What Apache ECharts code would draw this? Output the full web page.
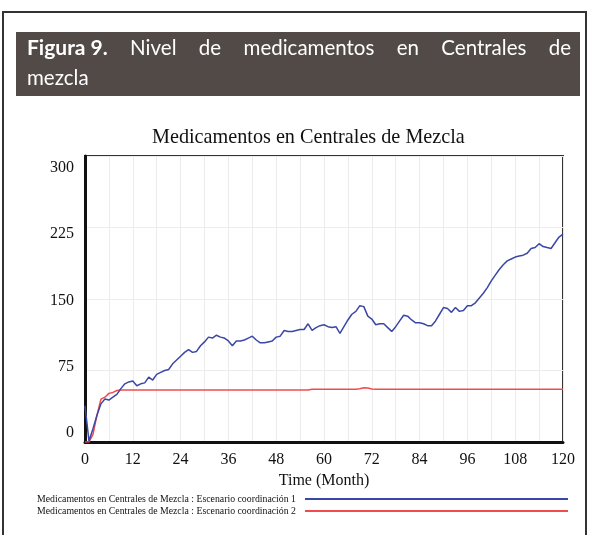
<!DOCTYPE html>
<html>
<head>
<meta charset="utf-8">
<title>Medicamentos en Centrales de Mezcla</title>
<script src="https://cdn.jsdelivr.net/npm/echarts@6/dist/echarts.min.js"></script>
<style>
  html, body { margin: 0; padding: 0; background: #fff; }
  #main { width: 589px; height: 535px; }
</style>
</head>
<body>
<div id="main"></div>
<script>
// months 0..120
const months = Array.from({ length: 121 }, (_, i) => i)

const scenario1 = [
  38, 1, 14, 28, 40, 45, 44, 47, 50, 56,
  61, 63, 64, 59, 61, 62, 68, 65, 71, 73,
  75, 76, 82, 86, 90, 94, 97, 94, 95, 101,
  105, 110, 109, 112, 110, 109, 106, 101, 106, 106,
  107, 109, 111, 107, 104, 104, 105, 106, 110, 111,
  117, 116, 116, 117, 118, 118, 124, 117, 120, 122,
  123, 121, 120, 121, 114, 121, 128, 134, 137, 143,
  142, 132, 129, 123, 124, 124, 120, 116, 121, 127,
  133, 132, 128, 125, 125, 124, 122, 122, 127, 134,
  141, 140, 136, 141, 137, 138, 143, 143, 146, 151,
  156, 162, 169, 175, 181, 186, 190, 192, 194, 195,
  196, 198, 203, 204, 208, 205, 204, 203, 209, 215,
  218
]

const scenario2 = [
  0, 0, 8, 28, 45, 47, 51, 52, 54, 54.5,
  54.5, 54.5, 54.5, 54.5, 54.5, 54.5, 54.5, 54.5, 54.5, 54.5,
  54.5, 54.5, 54.5, 54.5, 54.5, 54.5, 54.5, 54.5, 54.5, 54.5,
  54.5, 54.5, 54.5, 54.5, 54.5, 54.5, 54.5, 54.5, 54.5, 54.5,
  54.5, 54.5, 54.5, 54.5, 54.5, 54.5, 54.5, 54.5, 54.5, 54.5,
  54.5, 54.5, 54.5, 54.5, 54.5, 54.5, 54.5, 55.3, 55.3, 55.3,
  55.3, 55.3, 55.3, 55.3, 55.3, 55.3, 55.3, 55.3, 55.3, 55.8,
  56.8, 56.6, 55.6, 55.3, 55.3, 55.3, 55.3, 55.3, 55.3, 55.3,
  55.3, 55.3, 55.3, 55.3, 55.3, 55.3, 55.3, 55.3, 55.3, 55.3,
  55.3, 55.3, 55.3, 55.3, 55.3, 55.3, 55.3, 55.3, 55.3, 55.3,
  55.3, 55.3, 55.3, 55.3, 55.3, 55.3, 55.3, 55.3, 55.3, 55.3,
  55.3, 55.3, 55.3, 55.3, 55.3, 55.3, 55.3, 55.3, 55.3, 55.3,
  55.3
]

const yTicks = [0, 75, 150, 225, 300]
const seriesNames = [
  'Medicamentos en Centrales de Mezcla : Escenario coordinación 1',
  'Medicamentos en Centrales de Mezcla : Escenario coordinación 2'
]

const serif = '"Liberation Serif", "Times New Roman", serif'
const sans = 'Lato, "Open Sans", sans-serif'

// first header line is justified between x=27 and x=571
const headerWords = ['Figura 9.', 'Nivel', 'de', 'medicamentos', 'en', 'Centrales', 'de']
const ctx = document.createElement('canvas').getContext('2d')
const wordFont = i => (i === 0 ? 'bold 21px ' : '20.5px ') + sans
const widths = headerWords.map((w, i) => { ctx.font = wordFont(i); return ctx.measureText(w).width })
const gap = (571 - 27 - widths.reduce((a, b) => a + b, 0)) / (headerWords.length - 1)
let cursor = 27
const headerText = headerWords.map((w, i) => {
  const el = {
    type: 'text', x: cursor, y: 48, z: 20,
    style: { text: w, fill: '#fff', font: wordFont(i), textVerticalAlign: 'middle' }
  }
  cursor += widths[i] + gap
  return el
})

const chart = echarts.init(document.getElementById('main'))

chart.setOption({
  animation: false,
  backgroundColor: '#fff',
  title: {
    text: 'Medicamentos en Centrales de Mezcla',
    left: 147,
    top: 123,
    textStyle: { fontFamily: serif, fontSize: 20.2, fontWeight: 'normal', color: '#111' }
  },
  graphic: [
    {
      type: 'rect',
      shape: { x: 3, y: 12, width: 583, height: 540 },
      style: { fill: 'none', stroke: '#333', lineWidth: 2 },
      z: 1
    },
    {
      type: 'rect',
      shape: { x: 16, y: 32, width: 564, height: 64 },
      style: { fill: '#524a47' },
      z: 10
    },
    {
      type: 'text',
      x: 27,
      y: 78,
      z: 20,
      style: { text: 'mezcla', fill: '#fff', font: '20.5px ' + sans, textVerticalAlign: 'middle' }
    }
  ].concat(headerText),
  legend: {
    orient: 'vertical',
    left: 32,
    top: 489,
    align: 'right',
    icon: 'rect',
    itemWidth: 263,
    itemHeight: 2,
    itemGap: 2,
    textStyle: { fontFamily: serif, fontSize: 9.8, color: '#111', padding: [0, 4, 0, 0] },
    data: seriesNames
  },
  grid: {
    left: 85,
    right: 26,
    top: 156,
    bottom: 93,
    show: true,
    borderColor: '#333',
    borderWidth: 2
  },
  xAxis: {
    type: 'value',
    min: 0,
    max: 120,
    interval: 12,
    name: 'Time (Month)',
    nameLocation: 'middle',
    nameGap: 30,
    nameTextStyle: { fontFamily: serif, fontSize: 16, color: '#111' },
    axisLine: { lineStyle: { color: '#111', width: 3 } },
    axisTick: { show: false },
    axisLabel: { fontFamily: serif, fontSize: 16, color: '#111', margin: 10 },
    splitLine: { show: true, lineStyle: { color: '#ececec' } },
    minorTick: { show: false, splitNumber: 2 },
    minorSplitLine: { show: true, lineStyle: { color: '#ececec' } }
  },
  yAxis: [
    {
      type: 'value',
      min: 0,
      max: 300,
      interval: 75,
      axisLine: { show: true, lineStyle: { color: '#111', width: 3 } },
      axisTick: { show: false },
      axisLabel: { show: false },
      splitLine: { show: true, lineStyle: { color: '#ececec' } }
    },
    {
      // label-only axis: source draws tick labels slightly inside the span
      type: 'value',
      position: 'left',
      min: -10.2,
      max: 313.6,
      axisLine: { show: false },
      axisTick: { show: false },
      splitLine: { show: false },
      axisLabel: {
        customValues: yTicks,
        fontFamily: serif,
        fontSize: 16,
        color: '#111',
        margin: 11
      }
    }
  ],
  series: [
    {
      name: seriesNames[0],
      type: 'line',
      data: months.map((m, i) => [m, scenario1[i]]),
      showSymbol: false,
      lineStyle: { color: '#3b47a6', width: 1.5 },
      itemStyle: { color: '#3b47a6' },
      z: 3
    },
    {
      name: seriesNames[1],
      type: 'line',
      data: months.map((m, i) => [m, scenario2[i]]),
      showSymbol: false,
      lineStyle: { color: '#f04c4c', width: 1.5 },
      itemStyle: { color: '#f04c4c' },
      z: 2
    }
  ]
})
</script>
</body>
</html>
